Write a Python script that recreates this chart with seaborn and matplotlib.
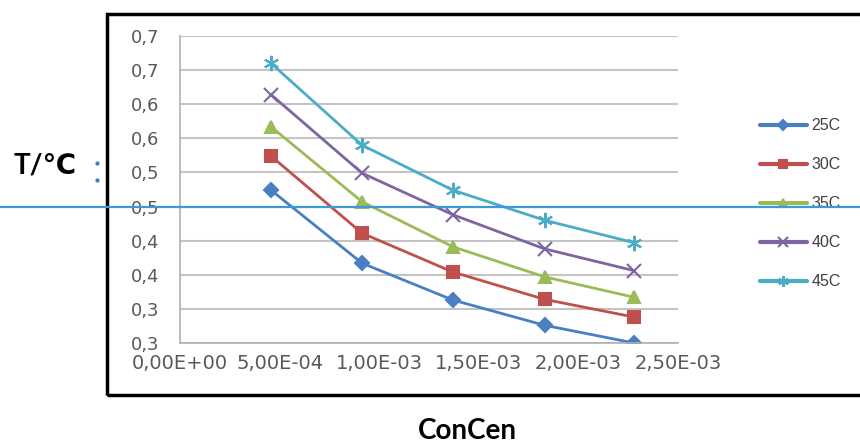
import pandas as pd
import matplotlib.pyplot as plt
import matplotlib.transforms as mtransforms
from matplotlib.lines import Line2D
from matplotlib.patches import Rectangle
import seaborn as sns

# --- Data ---
CONC = [4.57e-4, 9.14e-4, 1.37e-3, 1.83e-3, 2.28e-3]
T_25C = [0.474, 0.367, 0.313, 0.276, 0.250]
T_30C = [0.524, 0.411, 0.354, 0.314, 0.288]
T_35C = [0.567, 0.457, 0.391, 0.347, 0.317]
T_40C = [0.614, 0.499, 0.438, 0.388, 0.356]
T_45C = [0.660, 0.540, 0.474, 0.430, 0.397]
SERIES = ['25C', '30C', '35C', '40C', '45C']

Y_TICKS = [0.25, 0.30, 0.35, 0.40, 0.45, 0.50, 0.55, 0.60, 0.65, 0.70]
Y_TICK_LABELS = ['0,3', '0,3', '0,4', '0,4', '0,5', '0,5', '0,6', '0,6', '0,7', '0,7']
X_TICKS = [0.0, 5e-4, 1e-3, 1.5e-3, 2e-3, 2.5e-3]
X_TICK_LABELS = ['0,00E+00', '5,00E-04', '1,00E-03', '1,50E-03', '2,00E-03', '2,50E-03']
HLINE_Y = 0.45

COLORS = {'25C': '#4a7fc4', '30C': '#c0504d', '35C': '#9bbb59',
          '40C': '#8064a2', '45C': '#4bacc6'}
MARKERS = {'25C': 'D', '30C': 's', '35C': '^', '40C': 'x', '45C': (6, 2, 0)}
MSIZE = {'25C': 7, '30C': 9, '35C': 9, '40C': 10, '45C': 11}

rows = []
for name, vals in zip(SERIES, [T_25C, T_30C, T_35C, T_40C, T_45C]):
    for c, v in zip(CONC, vals):
        rows.append({'conc': c, 'T': v, 'series': name})
df = pd.DataFrame(rows)

sns.set_style("white")
plt.rcParams['font.family'] = ['DejaVu Sans']

fig = plt.figure(figsize=(8.6, 4.46), dpi=100)
ax = fig.add_axes([0.2093, 0.2309, 0.5791, 0.6884])

for name in SERIES:
    sub = df[df['series'] == name]
    sns.lineplot(data=sub, x='conc', y='T', color=COLORS[name], marker=MARKERS[name],
                 markersize=MSIZE[name], markeredgewidth=1.5,
                 markeredgecolor=COLORS[name], linewidth=2, label=name, ax=ax)

ax.set_xlim(0, 2.5e-3)
ax.set_ylim(0.25, 0.70)
ax.set_xticks(X_TICKS)
ax.set_xticklabels(X_TICK_LABELS, fontsize=14, color='#595959')
ax.set_yticks(Y_TICKS)
ax.set_yticklabels(Y_TICK_LABELS, fontsize=13, color='#595959')
ax.set_xlabel('')
ax.set_ylabel('')
ax.yaxis.grid(True, color='#c4c4c4', linewidth=1.5)
ax.set_axisbelow(True)
for side in ['top', 'right']:
    ax.spines[side].set_visible(False)
for side in ['left', 'bottom']:
    ax.spines[side].set_color('#b0b0b0')
    ax.spines[side].set_linewidth(1.2)
ax.tick_params(axis='both', direction='out', length=5, color='#b0b0b0')
ax.tick_params(axis='x', pad=3)
ax.tick_params(axis='y', pad=10)

handles, labels = ax.get_legend_handles_labels()
leg = ax.legend(handles, labels, loc='center left',
                bbox_to_anchor=(0.884, 0.543), bbox_transform=fig.transFigure,
                frameon=False, labelspacing=1.5, handlelength=2.9,
                handletextpad=0.3, borderpad=0, borderaxespad=0, markerscale=0.7,
                prop={'family': 'Liberation Sans', 'size': 11.5})
for t in leg.get_texts():
    t.set_color('#404040')
for h in leg.get_lines():
    h.set_linewidth(3)

# outer chart frame (right edge runs off the image)
fig.add_artist(Rectangle((0.1244, 0.1143), 0.95, 0.8543, transform=fig.transFigure,
                         fill=False, edgecolor='black', linewidth=2.5))

# blue horizontal line across the whole figure
trans = mtransforms.blended_transform_factory(fig.transFigure, ax.transData)
fig.add_artist(Line2D([0, 1], [HLINE_Y, HLINE_Y], transform=trans,
                      color='#3d9ad6', linewidth=1.6))

# small blue marks next to the label
fig.add_artist(Line2D([0.113, 0.113], [0.634, 0.596], transform=fig.transFigure,
                      linestyle='none', marker='o', markersize=2, color='#2f7fd0'))

fig.text(0.052, 0.628, 'T/\u2103', fontsize=20, fontweight='bold', color='black',
         family=['Lato', 'DejaVu Sans'], ha='center', va='center')
fig.text(0.543, 0.034, 'ConCen', fontsize=20, fontweight='bold', color='black',
         family=['Lato', 'DejaVu Sans'], ha='center', va='center')

fig.savefig('out.png', dpi=100)
